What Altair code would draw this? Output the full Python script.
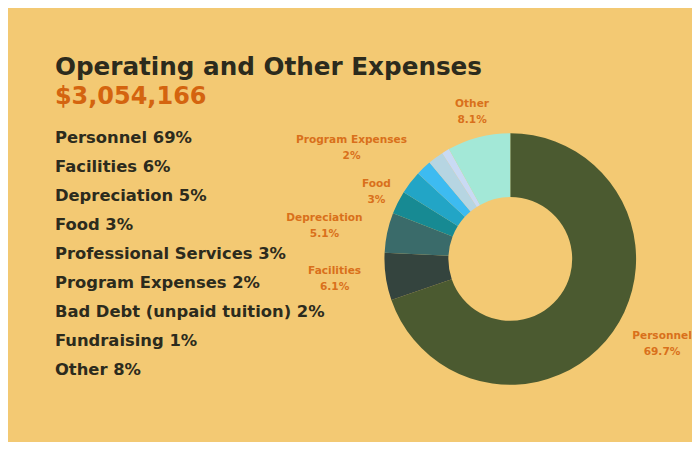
import altair as alt
import pandas as pd

# ---- data ----
categories = ["Personnel", "Facilities", "Depreciation", "Food",
              "Professional Services", "Program Expenses",
              "Bad Debt (unpaid tuition)", "Fundraising", "Other"]
list_pct = [69, 6, 5, 3, 3, 2, 2, 1, 8]            # left-hand list
slice_pct = [69.7, 6.1, 5.1, 3.0, 3.0, 2.0, 2.0, 1.0, 8.1]  # donut slices
slice_colors = ["#4b5a30", "#34443e", "#3a6b6a", "#178a93", "#22a5c6",
                "#3dbbf1", "#b6d5e2", "#c9daf4", "#a3e8d7"]
labeled = ["Personnel", "Facilities", "Depreciation", "Food",
           "Program Expenses", "Other"]
title_text = "Operating and Other Expenses"
total_text = "$3,054,166"

# label placement (layout only): radius and angular nudge per labelled slice
label_radius = {"Personnel": 174, "Facilities": 177, "Depreciation": 189,
                "Food": 150, "Program Expenses": 194, "Other": 152}
label_theta_nudge = {"Personnel": -0.11, "Facilities": 0.03, "Depreciation": -0.035,
                     "Food": 0.0, "Program Expenses": -0.2, "Other": 0.0}

BG = "#f3c973"
DARK = "#2c2b1d"
ORANGE = "#d4640f"
LABEL_ORANGE = "#d9701b"
FONT = "DejaVu Sans"

df = pd.DataFrame({
    "cat": categories,
    "order": list(range(len(categories))),
    "value": slice_pct,
    "listlab": [f"{c} {p}%" for c, p in zip(categories, list_pct)],
    "lab": [f"{c}\n{v:g}%" if c in labeled else "" for c, v in zip(categories, slice_pct)],
})

# ---- left panel: title + list ----
left = alt.Chart(df).mark_text(
    align="left", baseline="alphabetic", font=FONT, fontSize=16.4,
    fontWeight="bold", color=DARK
).encode(
    y=alt.Y("cat:N", sort=categories, axis=None, scale=alt.Scale(padding=0.5)),
    x=alt.value(0),
    text="listlab:N",
).properties(
    width=296, height=262,
    title=alt.TitleParams(
        text=title_text, subtitle=total_text, anchor="start",
        font=FONT, fontSize=24.7, fontWeight="bold", color=DARK,
        subtitleFont=FONT, subtitleFontSize=24, subtitleFontWeight="bold",
        subtitleColor=ORANGE, subtitlePadding=6, offset=19,
    ),
)

# ---- right panel: donut + labels ----
base = alt.Chart(df).encode(
    theta=alt.Theta("value:Q", stack=True),
    order=alt.Order("order:Q"),
)
donut = base.mark_arc(innerRadius=62, outerRadius=126).encode(
    color=alt.Color("cat:N", scale=alt.Scale(domain=categories, range=slice_colors),
                    legend=None),
)
layers = [donut]
for name in labeled:
    layers.append(
        base.mark_text(
            radius=label_radius[name], thetaOffset=label_theta_nudge[name],
            font=FONT, fontSize=10.6, fontWeight="bold", color=LABEL_ORANGE,
            lineBreak="\n", lineHeight=16, align="center", baseline="middle", dy=-8,
        ).encode(
            text=alt.condition(f"datum.cat === '{name}'", alt.Text("lab:N"), alt.value(""))
        )
    )
right = alt.layer(*layers).properties(width=300, height=262)

chart = alt.hconcat(left, right, spacing=10, bounds="flush").properties(
    padding={"left": 47, "top": 46, "right": 0, "bottom": 52},
    background=BG,
).configure_view(stroke=None)

chart.save("out.html", embed_options={"renderer": "svg", "actions": False})
